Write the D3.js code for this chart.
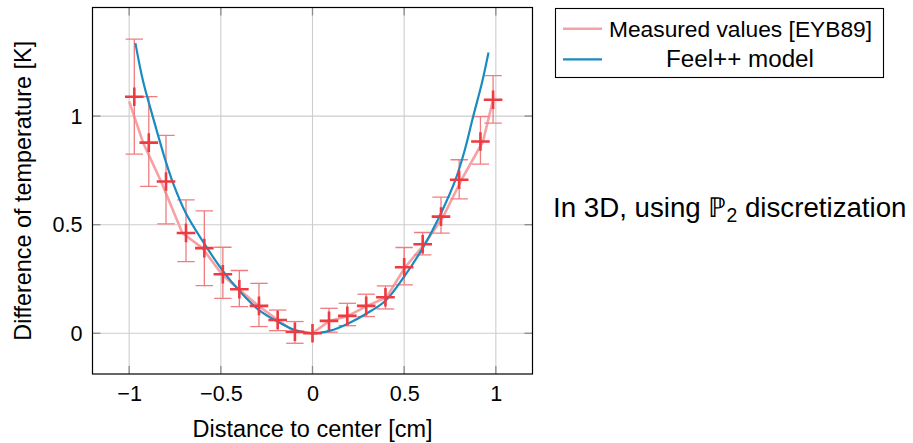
<!DOCTYPE html>
<html>
<head>
<meta charset="utf-8">
<script src="https://cdn.jsdelivr.net/npm/d3@7"></script>
<style>
  html, body { margin: 0; padding: 0; background: #fff; }
  svg { display: block; font-family: "Liberation Sans", Arial, sans-serif; }
</style>
</head>
<body>
<svg id="chart" width="913" height="443"></svg>
<script>
// Axis ticks
const xTicks = [-1, -0.5, 0, 0.5, 1];
const yTicks = [0, 0.5, 1];

// Measured temperature differences with their error ranges
const measX    = [-0.972, -0.893, -0.799, -0.69, -0.59, -0.489, -0.399, -0.292, -0.19, -0.096, 0, 0.09, 0.19, 0.293, 0.398, 0.5, 0.601, 0.701, 0.8, 0.916, 0.985];
const measY    = [1.089, 0.878, 0.699, 0.462, 0.392, 0.272, 0.203, 0.126, 0.061, 0.007, 0, 0.057, 0.08, 0.126, 0.166, 0.304, 0.41, 0.537, 0.707, 0.883, 1.075];
const errLow   = [0.825, 0.676, 0.504, 0.33, 0.219, 0.161, 0.123, 0.031, 0.012, -0.046, 0, 0.005, 0.035, 0.077, 0.112, 0.223, 0.361, 0.461, 0.619, 0.779, 0.968];
const errHigh  = [1.354, 1.09, 0.911, 0.614, 0.564, 0.396, 0.289, 0.23, 0.107, 0.054, 0, 0.115, 0.138, 0.18, 0.218, 0.395, 0.464, 0.627, 0.799, 0.998, 1.186];

// Measured profile as a polyline
const profileX = [-1.0, -0.924, -0.826, -0.71, -0.6, -0.495, -0.402, -0.294, -0.19, -0.096, 0, 0.092, 0.194, 0.298, 0.404, 0.505, 0.61, 0.713, 0.813, 0.93, 0.985];
const profileY = [1.068, 0.878, 0.699, 0.462, 0.392, 0.272, 0.203, 0.126, 0.061, 0.007, 0, 0.057, 0.08, 0.126, 0.166, 0.304, 0.41, 0.537, 0.707, 0.883, 1.075];

// Feel++ simulation result
const modelX = [-0.966, -0.924, -0.872, -0.8, -0.76, -0.692, -0.592, -0.486, -0.395, -0.292, -0.19, -0.096, 0, 0.096, 0.19, 0.293, 0.398, 0.5, 0.601, 0.701, 0.78, 0.831, 0.877, 0.924, 0.96];
const modelY = [1.336, 1.16, 1.0, 0.79, 0.69, 0.555, 0.415, 0.284, 0.192, 0.107, 0.054, 0.015, 0, 0.012, 0.043, 0.09, 0.15, 0.261, 0.392, 0.553, 0.707, 0.845, 1.0, 1.152, 1.293];

const legendLabels = ["Measured values [EYB89]", "Feel++ model"];
const xLabel = "Distance to center [cm]";
const yLabel = "Difference of temperature [K]";

const colProfile = "#f6a2a4";
const colErr = "#f07c80";
const colMark = "#ee3a40";
const colModel = "#1a8bbf";

const svg = d3.select("#chart");
svg.append("rect").attr("width", 913).attr("height", 443).attr("fill", "#fff");

const L = 92.5, R = 532.5, T = 7.5, B = 374;
const x = d3.scaleLinear().domain([-1.2, 1.2]).range([L, R]);
const y = d3.scaleLinear().domain([-0.1875, 1.5]).range([B, T]);

// Shrink/grow a text element's font so that it spans the given width
function fitWidth(sel, w) {
  const len = sel.node().getComputedTextLength();
  const fs = parseFloat(sel.attr("font-size"));
  sel.attr("font-size", (fs * w / len).toFixed(2));
}

// Grid
const grid = svg.append("g").attr("stroke", "#cdcdcd").attr("stroke-width", 1.1);
grid.selectAll(".gx").data(xTicks).join("line")
  .attr("x1", d => x(d)).attr("x2", d => x(d)).attr("y1", T).attr("y2", B);
grid.selectAll(".gy").data(yTicks).join("line")
  .attr("y1", d => y(d)).attr("y2", d => y(d)).attr("x1", L).attr("x2", R);

// Inner tick marks on all four sides
const tk = svg.append("g").attr("stroke", "#8c8c8c").attr("stroke-width", 1.3);
xTicks.forEach(t => {
  tk.append("line").attr("x1", x(t)).attr("x2", x(t)).attr("y1", B).attr("y2", B - 8);
  tk.append("line").attr("x1", x(t)).attr("x2", x(t)).attr("y1", T).attr("y2", T + 8);
});
yTicks.forEach(t => {
  tk.append("line").attr("y1", y(t)).attr("y2", y(t)).attr("x1", L).attr("x2", L + 8);
  tk.append("line").attr("y1", y(t)).attr("y2", y(t)).attr("x1", R).attr("x2", R - 8);
});

// Axes (labels only)
const fmt = d => d < 0 ? "\u2212" + Math.abs(d) : String(d);
const gx = svg.append("g").attr("transform", `translate(0,${B})`)
  .call(d3.axisBottom(x).tickValues(xTicks).tickSize(0).tickFormat(fmt));
gx.select(".domain").remove();
gx.selectAll("text").attr("y", 27).attr("dy", 0)
  .attr("font-size", 21.6).attr("font-family", "Liberation Sans, Arial, sans-serif").attr("fill", "#000");

const gy = svg.append("g").attr("transform", `translate(${L},0)`)
  .call(d3.axisLeft(y).tickValues(yTicks).tickSize(0).tickPadding(10).tickFormat(fmt));
gy.select(".domain").remove();
gy.selectAll("text").attr("font-size", 21.6).attr("font-family", "Liberation Sans, Arial, sans-serif").attr("fill", "#000");

// Axis titles
const xt = svg.append("text").attr("x", (L + R) / 2).attr("y", 437)
  .attr("text-anchor", "middle").attr("font-size", 23).text(xLabel);
fitWidth(xt, 240);
const yt = svg.append("text").attr("transform", `translate(31,${(T + B) / 2}) rotate(-90)`)
  .attr("text-anchor", "middle").attr("font-size", 23).text(yLabel);
fitWidth(yt, 300);

// Plot contents clipped to the frame
svg.append("clipPath").attr("id", "plotclip").append("rect")
  .attr("x", L).attr("y", T).attr("width", R - L).attr("height", B - T);
const plot = svg.append("g").attr("clip-path", "url(#plotclip)");

// Measured profile line
plot.append("path")
  .datum(d3.range(profileX.length))
  .attr("fill", "none").attr("stroke", colProfile).attr("stroke-width", 2.6)
  .attr("stroke-linejoin", "round")
  .attr("d", d3.line().x(i => x(profileX[i])).y(i => y(profileY[i])));

// Error bars
const eb = plot.append("g").attr("stroke", colErr).attr("stroke-width", 1.3);
const idx = d3.range(measX.length).filter(i => errHigh[i] > errLow[i]);
eb.selectAll(".v").data(idx).join("line")
  .attr("x1", i => x(measX[i])).attr("x2", i => x(measX[i]))
  .attr("y1", i => y(errLow[i])).attr("y2", i => y(errHigh[i]));
eb.selectAll(".lo").data(idx).join("line")
  .attr("x1", i => x(measX[i]) - 8.7).attr("x2", i => x(measX[i]) + 8.7)
  .attr("y1", i => y(errLow[i])).attr("y2", i => y(errLow[i]));
eb.selectAll(".hi").data(idx).join("line")
  .attr("x1", i => x(measX[i]) - 8.7).attr("x2", i => x(measX[i]) + 8.7)
  .attr("y1", i => y(errHigh[i])).attr("y2", i => y(errHigh[i]));

// Model curve
plot.append("path")
  .datum(d3.range(modelX.length))
  .attr("fill", "none").attr("stroke", colModel).attr("stroke-width", 2.2)
  .attr("d", d3.line().curve(d3.curveCatmullRom.alpha(0.5))
    .x(i => x(modelX[i])).y(i => y(modelY[i])));

// Cross markers
plot.selectAll(".mark").data(d3.range(measX.length)).join("path")
  .attr("transform", i => `translate(${x(measX[i])},${y(measY[i])})`)
  .attr("d", "M-9.3,0H9.3M0,-9.3V9.3")
  .attr("stroke", colMark).attr("stroke-width", 2.6).attr("fill", "none");

// Frame
svg.append("rect").attr("x", L).attr("y", T).attr("width", R - L).attr("height", B - T)
  .attr("fill", "none").attr("stroke", "#000").attr("stroke-width", 1.2);

// Legend
const lg = svg.append("g");
lg.append("rect").attr("x", 555.5).attr("y", 8.5).attr("width", 328).attr("height", 69)
  .attr("fill", "#fff").attr("stroke", "#000").attr("stroke-width", 1.1);
lg.append("line").attr("x1", 563).attr("x2", 602).attr("y1", 28.7).attr("y2", 28.7)
  .attr("stroke", colProfile).attr("stroke-width", 2.6);
lg.append("line").attr("x1", 563).attr("x2", 602).attr("y1", 59.3).attr("y2", 59.3)
  .attr("stroke", colModel).attr("stroke-width", 2.2);
const l1 = lg.append("text").attr("x", 609).attr("y", 36.5).attr("font-size", 22).text(legendLabels[0]);
fitWidth(l1, 263);
const l2 = lg.append("text").attr("x", 740).attr("y", 66.5).attr("text-anchor", "middle")
  .attr("font-size", 22).text(legendLabels[1]);
fitWidth(l2, 148);

// Side note
const note = svg.append("text").attr("x", 553).attr("y", 217).attr("font-size", 27);
note.append("tspan").text("In 3D, using ");
note.append("tspan").text("\u2119");
note.append("tspan").attr("font-size", "0.7em").attr("dy", 5).text("2");
note.append("tspan").attr("dy", -5).text(" discretization");
fitWidth(note, 354);
</script>
</body>
</html>
